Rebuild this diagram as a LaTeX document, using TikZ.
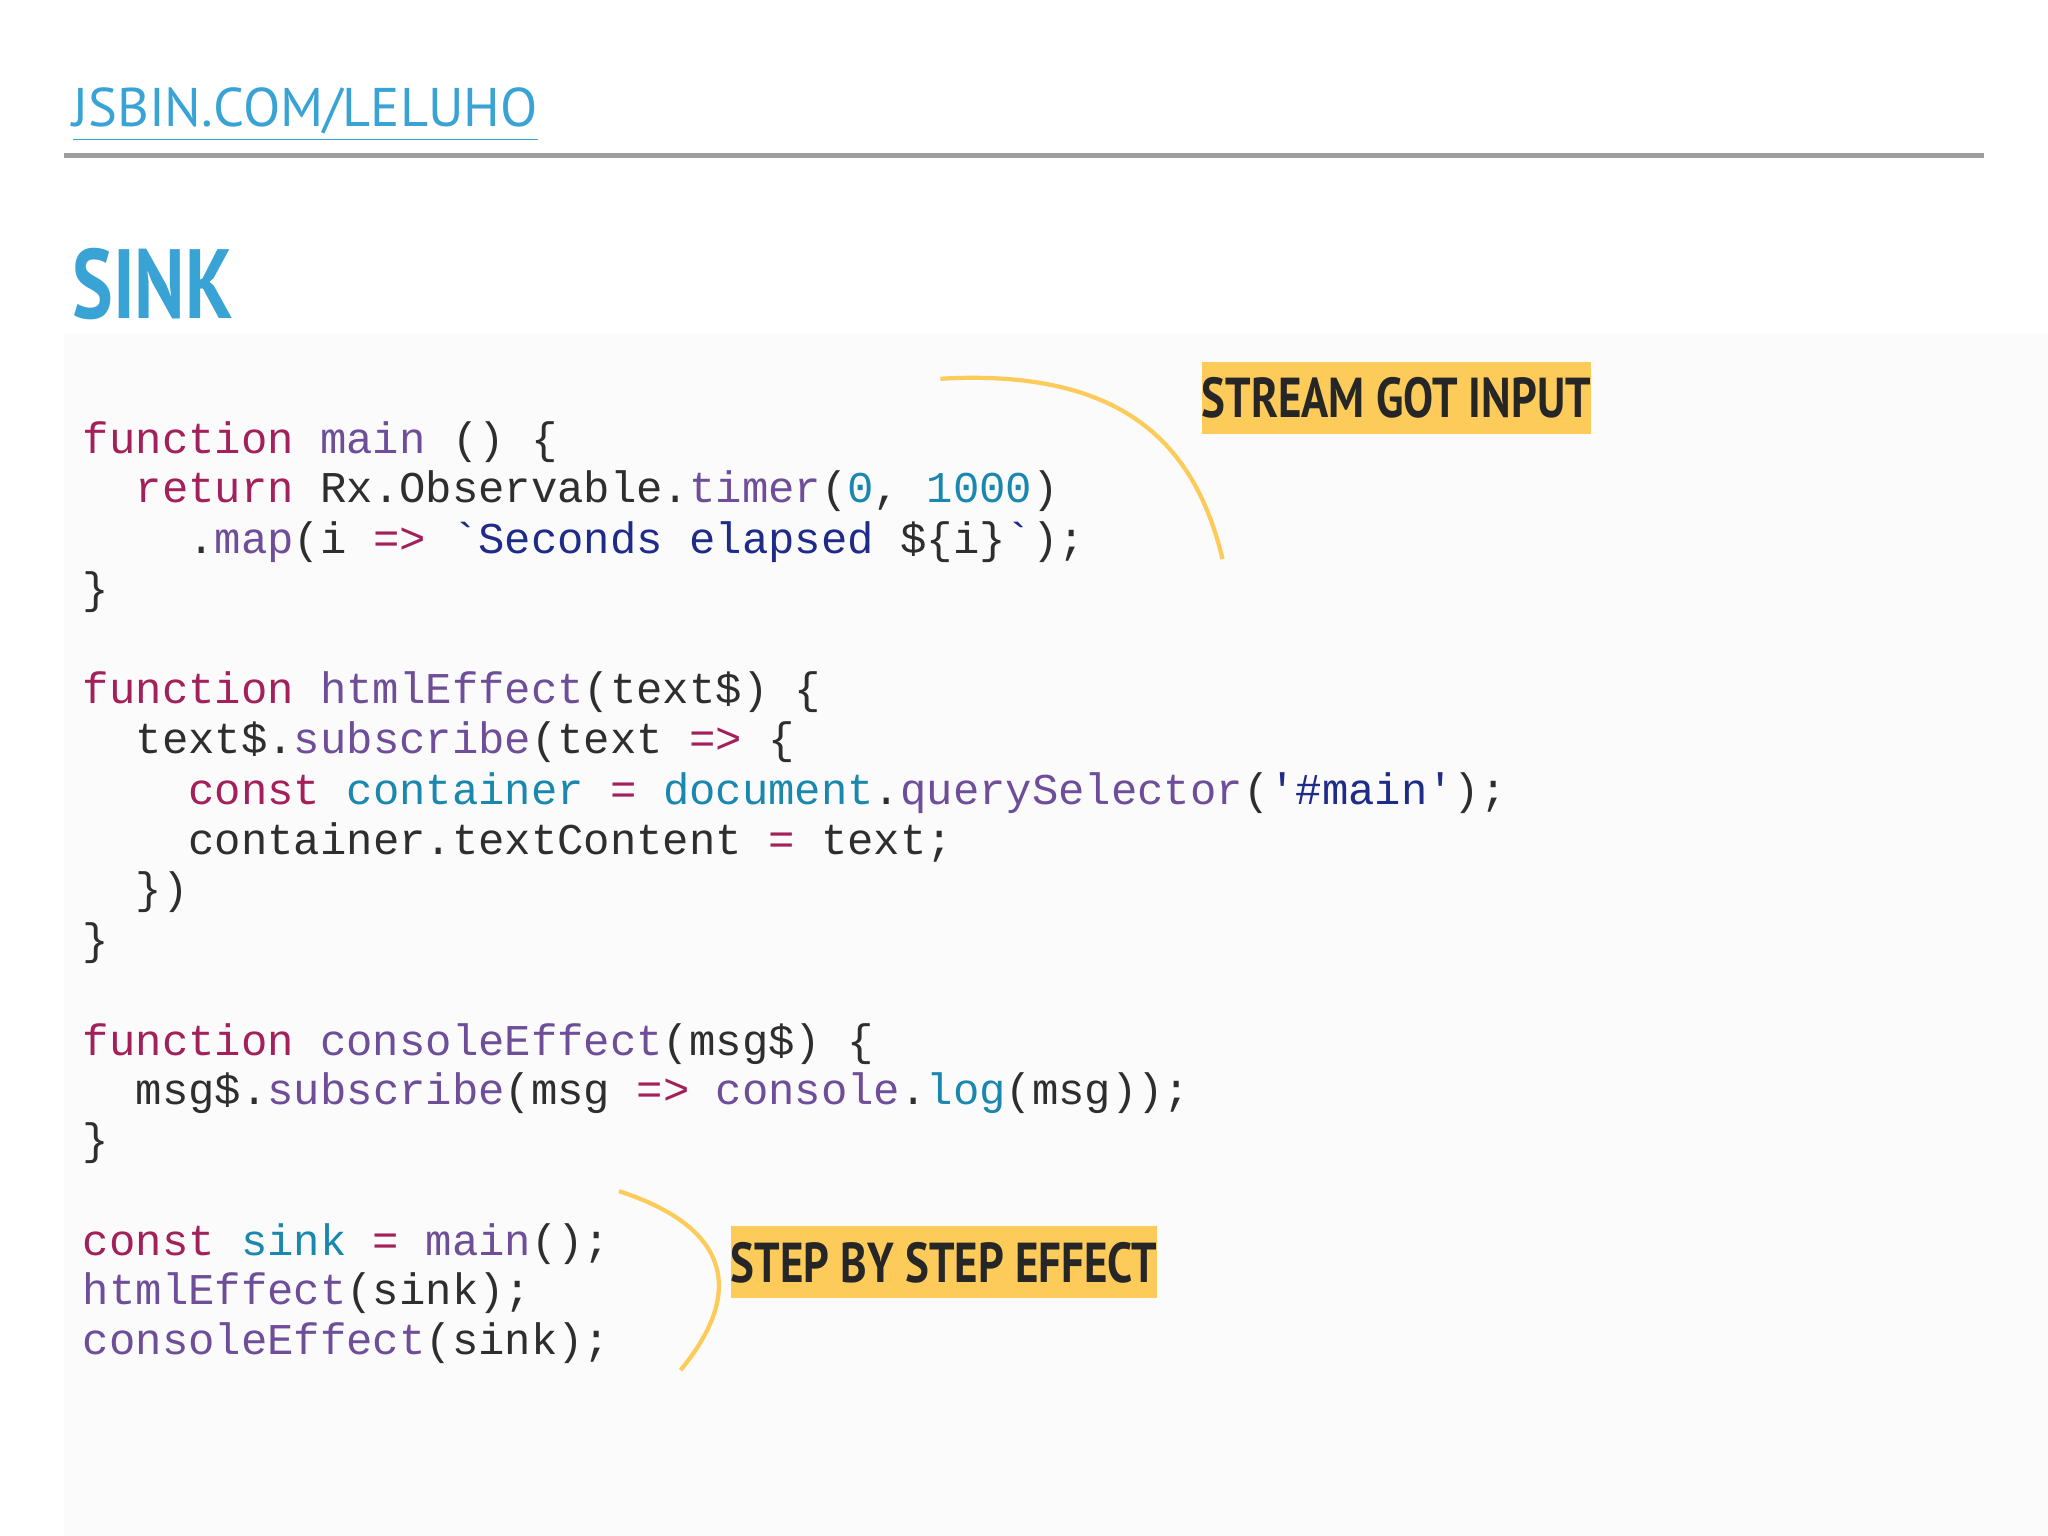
\documentclass[tikz,border=0pt]{standalone}
\usepackage{fontspec}
\setmonofont{Liberation Mono}
\newfontfamily\ptsans{PT Sans}
\usetikzlibrary{calc}
\definecolor{kw}{HTML}{A3205A}
\definecolor{fn}{HTML}{6E4E99}
\definecolor{cy}{HTML}{1A88AE}
\definecolor{st}{HTML}{1F2B88}
\definecolor{tx}{HTML}{2E2E2E}
\definecolor{lnk}{HTML}{3AA3D6}
\definecolor{lab}{HTML}{FCCB5A}
\newcommand\kw[1]{\textcolor{kw}{#1}}
\newcommand\fn[1]{\textcolor{fn}{#1}}
\newcommand\cy[1]{\textcolor{cy}{#1}}
\newcommand\st[1]{\textcolor{st}{#1}}
\begin{document}
\begin{tikzpicture}[x=0.013061cm,y=-0.013061cm,
  code/.style={anchor=base west,inner sep=0,font=\ttfamily\fontsize{12.5}{14}\selectfont,text=tx},
  labelbox/.style={fill=lab,inner sep=0,anchor=center,text=black!85,font=\ptsans\bfseries\fontsize{16}{16}\selectfont},
  curve/.style={draw=lab,line width=1.2pt}]
\useasboundingbox[fill=white] (0,0) rectangle (1568,1176);
\fill[black!1.5] (49,255) rectangle (1568,1176);
\node[anchor=base west,inner sep=0,text=lnk,font=\ptsans\fontsize{15.5}{16}\selectfont] (link) at (55,97) {\underline{JSBIN.COM/LELUHO}};
\draw[black!38,line width=1.2pt] (49,119) -- (1519,119);
\node[anchor=base west,inner sep=0,text=lnk,font=\ptsans\bfseries\fontsize{28}{28}\selectfont,xscale=0.78] (title) at (55,244) {SINK};
\def\ind{20.2}
\node[code] (l1) at (63,347) {\kw{function} \fn{main} () \{};
\node[code] (l2) at (63+2*\ind,385) {\kw{return} Rx.Observable.\fn{timer}(\cy{0}, \cy{1000})};
\node[code] (l3) at (63+4*\ind,424) {.\fn{map}(i \kw{=>} \st{\char96 Seconds elapsed} \$\{i\}\st{\char96});};
\node[code] (l4) at (63,462) {\}};
\node[code] (l5) at (63,539) {\kw{function} \fn{htmlEffect}(text\$) \{};
\node[code] (l6) at (63+2*\ind,577) {text\$.\fn{subscribe}(text \kw{=>} \{};
\node[code] (l7) at (63+4*\ind,616) {\kw{const} \cy{container} \kw{=} \cy{document}.\fn{querySelector}(\st{\char39\#main\char39});};
\node[code] (l8) at (63+4*\ind,654) {container.textContent \kw{=} text;};
\node[code] (l9) at (63+2*\ind,692) {\})};
\node[code] (l10) at (63,731) {\}};
\node[code] (l11) at (63,808) {\kw{function} \fn{consoleEffect}(msg\$) \{};
\node[code] (l12) at (63+2*\ind,846) {msg\$.\fn{subscribe}(msg \kw{=>} \fn{console}.\cy{log}(msg));};
\node[code] (l13) at (63,884) {\}};
\node[code] (l14) at (63,961) {\kw{const} \cy{sink} \kw{=} \fn{main}();};
\node[code] (l15) at (63,999) {\fn{htmlEffect}(sink);};
\node[code] (l16) at (63,1037) {\fn{consoleEffect}(sink);};
\node[labelbox,minimum width=264*0.013061cm,minimum height=55*0.013061cm] (lab1) at (1069,304.5) {\scalebox{0.8}[1]{STREAM GOT INPUT}};
\node[labelbox,minimum width=297*0.013061cm,minimum height=55*0.013061cm] (lab2) at (722.5,966.5) {\scalebox{0.8}[1]{STEP BY STEP EFFECT}};
\coordinate (c1a) at (720,290); \coordinate (c1b) at (936,428);
\draw[curve] (c1a) .. controls (860,282) and (915,340) .. (c1b);
\coordinate (c2a) at (474,912); \coordinate (c2b) at (521,1049);
\draw[curve] (c2a) .. controls (560,940) and (570,990) .. (c2b);
\end{tikzpicture}
\end{document}
